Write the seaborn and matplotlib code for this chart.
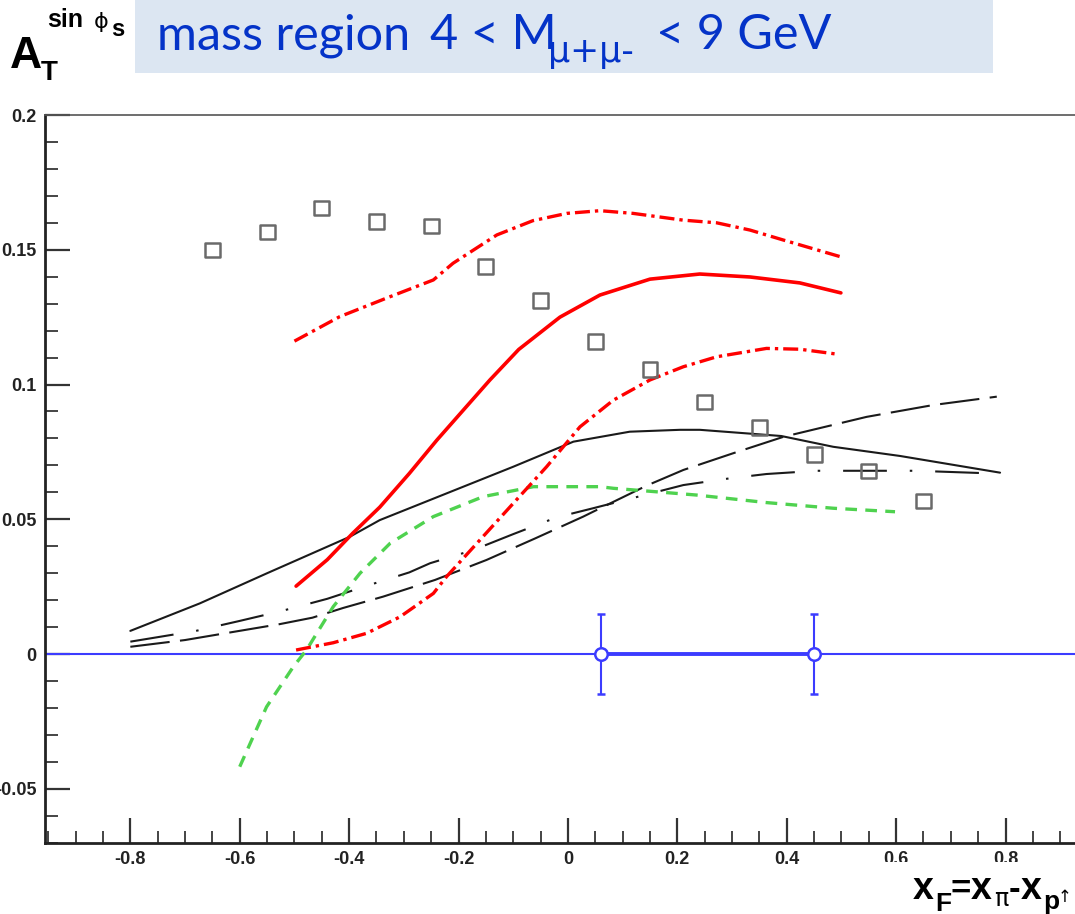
import numpy as np
import pandas as pd
import matplotlib
matplotlib.use("Agg")
import matplotlib.pyplot as plt
import seaborn as sns
from matplotlib.patches import Rectangle
from matplotlib.ticker import MultipleLocator, FixedLocator

# --- data ---
sq_x = [-0.65, -0.55, -0.45, -0.35, -0.25, -0.15, -0.05, 0.05, 0.15, 0.25, 0.35, 0.45, 0.55, 0.65]
sq_y = [0.1499, 0.1566, 0.1655, 0.1605, 0.1588, 0.1438, 0.1312, 0.1161, 0.1056, 0.0935,
        0.0842, 0.0742, 0.0679, 0.0568]

red_solid_x = [-0.497, -0.44, -0.393, -0.344, -0.29, -0.2395, -0.19, -0.1426, -0.09, -0.0146,
               0.0585, 0.15, 0.241, 0.333, 0.424, 0.499]
red_solid_y = [0.0252, 0.035, 0.0449, 0.0545, 0.067, 0.0794, 0.0908, 0.1017, 0.113, 0.125,
               0.1332, 0.1391, 0.1410, 0.1399, 0.1377, 0.1340]

red_top_x = [-0.5, -0.417, -0.325, -0.246, -0.21, -0.13, -0.064, -0.002, 0.0585, 0.119,
             0.21, 0.272, 0.333, 0.394, 0.4985]
red_top_y = [0.1161, 0.1252, 0.1326, 0.1388, 0.145, 0.1555, 0.1608, 0.1635, 0.1645, 0.1635,
             0.161, 0.160, 0.1573, 0.1536, 0.1474]

red_low_x = [-0.497, -0.429, -0.368, -0.307, -0.246, -0.222, -0.161, -0.1, -0.039, 0.022,
             0.083, 0.15, 0.211, 0.272, 0.363, 0.424, 0.491]
red_low_y = [0.0015, 0.0042, 0.0077, 0.0138, 0.0225, 0.0287, 0.0423, 0.0559, 0.0695, 0.0843,
             0.0942, 0.1017, 0.1066, 0.1103, 0.1134, 0.1131, 0.1113]

blk_solid_x = [-0.80, -0.673, -0.551, -0.399, -0.344, -0.222, -0.1, 0.01, 0.113, 0.205,
               0.241, 0.39, 0.485, 0.607, 0.79]
blk_solid_y = [0.0086, 0.0188, 0.0299, 0.0435, 0.0497, 0.0596, 0.0695, 0.0788, 0.0825, 0.0832,
               0.0832, 0.0809, 0.0769, 0.0735, 0.0673]

blk_ldash_x = [-0.80, -0.70, -0.627, -0.527, -0.467, -0.411, -0.338, -0.243, -0.149, -0.06,
               0.028, 0.052, 0.144, 0.211, 0.302, 0.394, 0.546, 0.668, 0.784]
blk_ldash_y = [0.0027, 0.0052, 0.0077, 0.0111, 0.0135, 0.0171, 0.0213, 0.0275, 0.0349, 0.0429,
               0.051, 0.0534, 0.0625, 0.0683, 0.0745, 0.0806, 0.088, 0.0924, 0.0955]

blk_dd_x = [-0.80, -0.68, -0.60, -0.523, -0.44, -0.368, -0.29, -0.252, -0.173, -0.1,
            -0.021, 0.046, 0.211, 0.296, 0.363, 0.455, 0.534, 0.637, 0.778]
blk_dd_y = [0.0046, 0.0086, 0.0123, 0.016, 0.0205, 0.0253, 0.0303, 0.0337, 0.0386, 0.0445,
            0.0507, 0.0541, 0.0627, 0.0652, 0.0668, 0.068, 0.068, 0.068, 0.067]

green_x = [-0.60, -0.551, -0.502, -0.478, -0.429, -0.38, -0.325, -0.246, -0.155, -0.063,
           0.0585, 0.083, 0.235, 0.363, 0.485, 0.598]
green_y = [-0.0418, -0.0196, -0.0047, 0.0015, 0.0176, 0.030, 0.0411, 0.051, 0.0584, 0.0621,
           0.0621, 0.0615, 0.059, 0.0562, 0.0541, 0.0528]

blue_x = [0.06, 0.45]
blue_y = [0.0, 0.0]
blue_err = [0.015, 0.015]

y_ticks = [-0.05, 0, 0.05, 0.1, 0.15, 0.2]
y_labels = ["-0.05", "0", "0.05", "0.1", "0.15", "0.2"]
x_ticks = [-0.8, -0.6, -0.4, -0.2, 0, 0.2, 0.4, 0.6, 0.8]
x_labels = ["-0.8", "-0.6", "-0.4", "-0.2", "0", "0.2", "0.4", "0.6", "0.8"]

W, H = 1075, 914
RED = "#ff0000"
GREEN = "#4fd24f"
BLUE = "#3c3cff"
BLACK = "#1a1a1a"
TXT_BLUE = "#0433c8"

sns.set_style("white")
plt.rcParams["font.family"] = ["Liberation Sans", "DejaVu Sans"]

fig = plt.figure(figsize=(W / 100, H / 100), dpi=100)
# axes: left edge at 45 px, bottom at 843 px, top at 115 px, 547 px per x unit
ax_left = 45 / W
ax_bottom = (H - 843) / H
ax_height = (843 - 115) / H
ax_width = (1.912 * 547) / W
ax = fig.add_axes([ax_left, ax_bottom, ax_width, ax_height])

# blue zero line and points
ax.axhline(0, color=BLUE, lw=1.5, zorder=2)
sns.lineplot(x=blue_x, y=blue_y, color=BLUE, linewidth=2.8, ax=ax, zorder=3)
ax.errorbar(blue_x, blue_y, yerr=blue_err, fmt="o", mfc="white", mec=BLUE, ms=9, mew=1.8,
            ecolor=BLUE, elinewidth=1.5, capsize=3, capthick=1.5, zorder=4)

# theory curves
sns.lineplot(x=blk_solid_x, y=blk_solid_y, color=BLACK, linewidth=1.5, ax=ax)
sns.lineplot(x=blk_ldash_x, y=blk_ldash_y, color=BLACK, linewidth=1.5, ax=ax,
             linestyle=(0, (19, 5)))
sns.lineplot(x=blk_dd_x, y=blk_dd_y, color=BLACK, linewidth=1.5, ax=ax,
             linestyle=(0, (21, 11, 1.2, 11)))
sns.lineplot(x=green_x, y=green_y, color=GREEN, linewidth=2.4, ax=ax,
             linestyle=(0, (3.5, 2.5)))
sns.lineplot(x=red_low_x, y=red_low_y, color=RED, linewidth=2.4, ax=ax,
             linestyle=(0, (4.5, 1.5, 1, 1.5)))
sns.lineplot(x=red_top_x, y=red_top_y, color=RED, linewidth=2.4, ax=ax,
             linestyle=(0, (4.5, 1.5, 1, 1.5)))
sns.lineplot(x=red_solid_x, y=red_solid_y, color=RED, linewidth=2.6, ax=ax)

# open squares
sns.scatterplot(x=sq_x, y=sq_y, marker="s", s=115, facecolor="none", edgecolor="#6a6a6a",
                linewidth=1.8, ax=ax, zorder=5)

ax.set_xlim(-0.956, 0.956)
ax.set_ylim(-0.0701, 0.2)
ax.xaxis.set_major_locator(FixedLocator(x_ticks))
ax.set_xticklabels(x_labels)
ax.xaxis.set_minor_locator(MultipleLocator(0.05))
ax.yaxis.set_major_locator(FixedLocator(y_ticks))
ax.set_yticklabels(y_labels)
ax.yaxis.set_minor_locator(MultipleLocator(0.01))
ax.tick_params(which="both", bottom=True, left=True, top=False, right=False)
ax.tick_params(which="major", direction="in", length=18, width=1.6, color="#333333",
               labelsize=13, pad=6, labelcolor="#222222")
ax.tick_params(which="minor", direction="in", length=9, width=1.4, color="#444444")
for lab in ax.get_xticklabels() + ax.get_yticklabels():
    lab.set_fontweight("bold")
for side in ["left", "bottom"]:
    ax.spines[side].set_linewidth(2.0)
    ax.spines[side].set_color("#222222")
ax.spines["top"].set_linewidth(1.2)
ax.spines["top"].set_color("#555555")
ax.set_xlabel("")
ax.set_ylabel("")


def fx(px):
    return px / W


def fy(py):
    return 1 - py / H


# white cover over the lower part of the right tick labels (as in the reference)
fig.patches.append(Rectangle((fx(860), 0), fx(W) - fx(860), fy(862), transform=fig.transFigure,
                             facecolor="white", edgecolor="none", zorder=5))

# title box
fig.patches.append(Rectangle((fx(135), fy(73)), fx(993) - fx(135), 73 / H,
                             transform=fig.transFigure, facecolor="#dce6f2",
                             edgecolor="none", zorder=1))

bold = dict(fontweight="bold", family=["Liberation Sans", "DejaVu Sans"], color="black", zorder=6,
            va="baseline", ha="left")
fig.text(fx(10), fy(68), "A", fontsize=32, **bold)
fig.text(fx(41), fy(80), "T", fontsize=20, **bold)
fig.text(fx(47), fy(27), "sin", fontsize=18, **bold)
fig.text(fx(94), fy(28), "\u03d5", fontsize=16, color="black", zorder=6, va="baseline",
         ha="left", family=["DejaVu Sans"])
fig.text(fx(111), fy(36), "s", fontsize=17, **bold)

blue_kw = dict(color=TXT_BLUE, zorder=6, va="baseline", ha="left", family=["Lato", "DejaVu Sans"])
fig.text(fx(157), fy(49), "mass region", fontsize=35, **blue_kw)
fig.text(fx(430), fy(49), "4 < M", fontsize=35, **blue_kw)
fig.text(fx(548), fy(62), "\u03bc+\u03bc-", fontsize=25, color=TXT_BLUE, zorder=6,
         va="baseline", ha="left", family=["DejaVu Sans"])
fig.text(fx(656), fy(49), "< 9 GeV", fontsize=35, **blue_kw)

# x-axis label
fig.text(fx(913), fy(899), "x", fontsize=27, **bold)
fig.text(fx(935), fy(911), "F", fontsize=19, **bold)
fig.text(fx(950), fy(899), "=", fontsize=25, **bold)
fig.text(fx(971), fy(899), "x", fontsize=27, **bold)
fig.text(fx(994), fy(906), "\u03c0", fontsize=17, color="black", zorder=6, va="baseline",
         ha="left", family=["DejaVu Sans"])
fig.text(fx(1009), fy(899), "-", fontsize=25, **bold)
fig.text(fx(1021), fy(899), "x", fontsize=27, **bold)
fig.text(fx(1043), fy(909), "p", fontsize=19, **bold)
fig.text(fx(1058), fy(902), "\u2191", fontsize=12, color="black", zorder=6, va="baseline",
         ha="left", family=["DejaVu Sans"])

fig.savefig("out.png", dpi=100)
